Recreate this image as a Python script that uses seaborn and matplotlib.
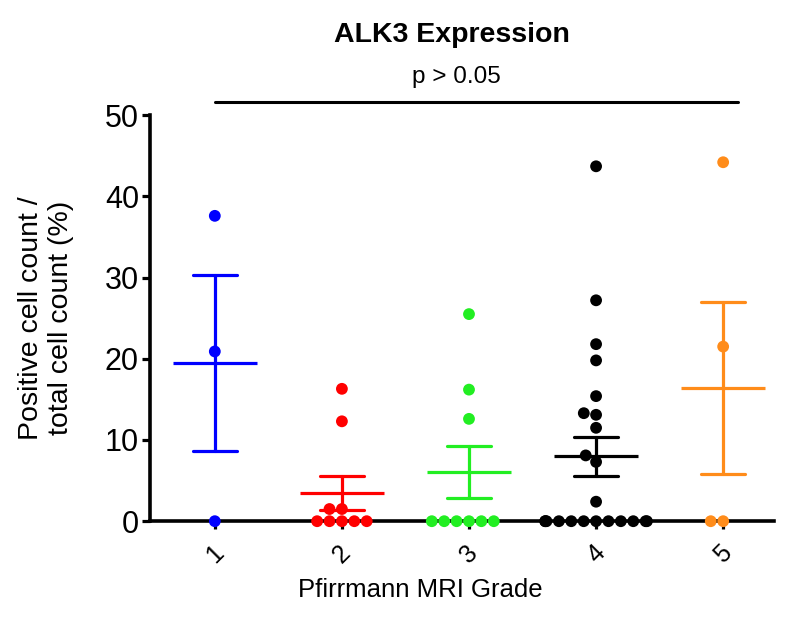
import pandas as pd
import matplotlib
matplotlib.use("Agg")
import matplotlib.pyplot as plt
import seaborn as sns

grades = ['1', '2', '3', '4', '5']
colors = ['#0000ff', '#ff0000', '#22ee22', '#000000', '#ff8c1a']

grade1 = [37.6, 20.9, 0.0]
grade2 = [16.3, 12.3, 1.5, 1.5, 0.0, 0.0, 0.0, 0.0, 0.0]
grade3 = [25.5, 16.2, 12.6, 0.0, 0.0, 0.0, 0.0, 0.0, 0.0]
grade4 = [43.7, 27.2, 21.8, 19.8, 15.4, 13.3, 13.1, 11.5, 8.1, 7.3, 2.4,
          0.0, 0.0, 0.0, 0.0, 0.0, 0.0, 0.0, 0.0, 0.0, 0.0, 0.0, 0.0]
grade5 = [44.2, 21.5, 0.0, 0.0]

p_text = "p > 0.05"


def build_df():
    rows = []
    for g, vals in zip(grades, [grade1, grade2, grade3, grade4, grade5]):
        for v in vals:
            rows.append({"Grade": g, "Value": v})
    return pd.DataFrame(rows)


def main():
    df = build_df()
    pal = dict(zip(grades, colors))

    sns.set_style("ticks")
    plt.rcParams['font.family'] = ['Liberation Sans', 'DejaVu Sans']
    plt.rcParams['text.color'] = 'black'
    plt.rcParams['axes.labelcolor'] = 'black'
    plt.rcParams['xtick.color'] = 'black'
    plt.rcParams['ytick.color'] = 'black'
    plt.rcParams['axes.edgecolor'] = 'black'

    fig = plt.figure(figsize=(8, 6.19), dpi=100)
    ax = fig.add_axes([0.1875, 0.158, 0.78, 0.656])

    sns.swarmplot(data=df, x="Grade", y="Value", hue="Grade", palette=pal,
                  order=grades, size=8.5, legend=False, ax=ax, zorder=3)

    # mean +/- SEM
    sns.pointplot(data=df, x="Grade", y="Value", hue="Grade", palette=pal,
                  order=grades, errorbar="se", capsize=0.35, markers="_",
                  markersize=60, markeredgewidth=2.3, linestyle="none",
                  err_kws={"linewidth": 2.3}, legend=False, ax=ax)

    for c in ax.collections:
        c.set_clip_on(False)
    for l in ax.lines:
        l.set_clip_on(False)

    ax.set_xlim(-0.51, 4.4)
    ax.set_ylim(0, 50)
    ax.set_yticks([0, 10, 20, 30, 40, 50])
    ax.tick_params(axis='y', labelsize=22, width=2.3, length=6, pad=2)
    ax.tick_params(axis='x', labelsize=18, width=2.3, length=6, pad=8)
    plt.setp(ax.get_xticklabels(), rotation=45, ha='center')
    for s in ['left', 'bottom']:
        ax.spines[s].set_linewidth(2.6)
    sns.despine(ax=ax)

    ax.set_xlabel("Pfirrmann MRI Grade", fontsize=18.5)
    ax.xaxis.set_label_coords(0.433, -0.14)
    ax.set_ylabel("Positive cell count /\ntotal cell count (%)", fontsize=20.5)
    ax.yaxis.set_label_coords(-0.122, 0.5)

    # significance bar
    ax.plot([0, 4.12], [51.6, 51.6], color='black', lw=2.2, clip_on=False)
    ax.text(1.9, 53.3, p_text, fontsize=17.5, ha='center', va='bottom')
    fig.text(0.565, 0.943, "ALK3 Expression", fontsize=20.5, fontweight='bold',
             ha='center', va='center')

    fig.savefig("out.png", dpi=100)
    plt.close(fig)


if __name__ == "__main__":
    main()
